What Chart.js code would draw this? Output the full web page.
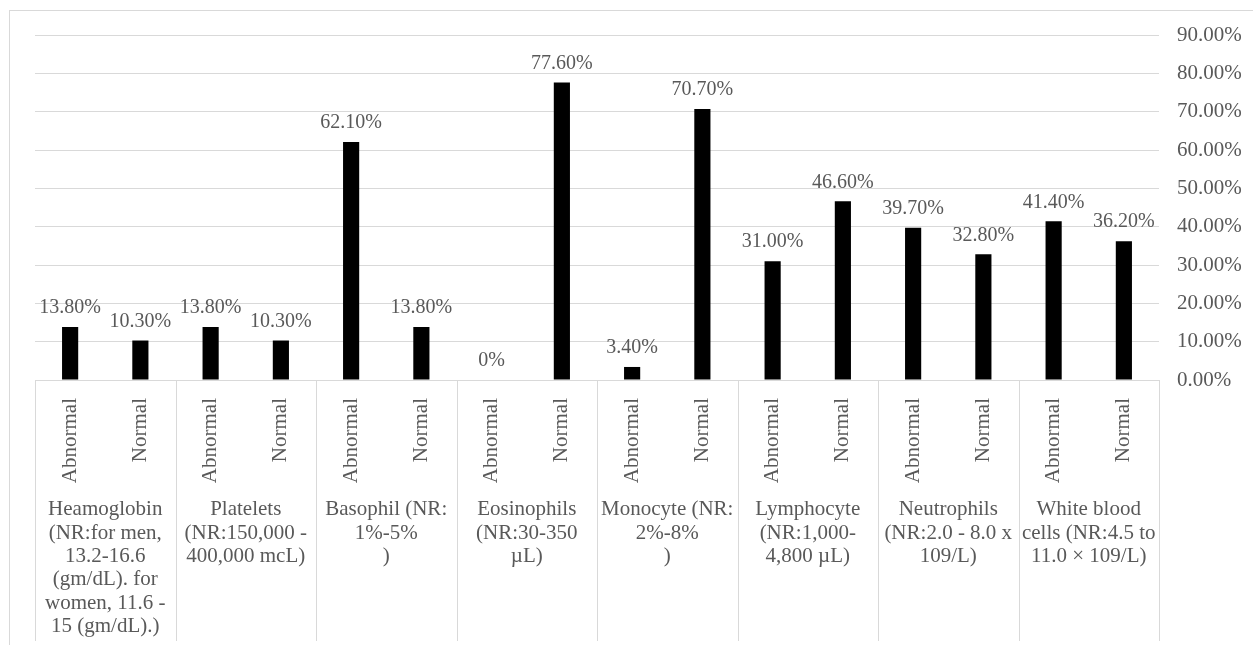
<!DOCTYPE html>
<html>
<head>
<meta charset="utf-8">
<script src="https://cdn.jsdelivr.net/npm/chart.js@4/dist/chart.umd.min.js"></script>
<style>
  html, body { margin: 0; padding: 0; background: #fff; overflow: hidden; }
  #frame {
    position: absolute; left: 9px; top: 10px;
    width: 1244px; height: 635px;
    border-left: 1px solid #d9d9d9; border-top: 1px solid #d9d9d9;
  }
  canvas { display: block; }
</style>
</head>
<body>
<div id="frame"><canvas id="myChart" width="1243" height="634"></canvas></div>
<script>
const groups = [
  ['Heamoglobin', '(NR:for men,', '13.2-16.6', '(gm/dL). for', 'women, 11.6 -', '15 (gm/dL).)'],
  ['Platelets', '(NR:150,000 -', '400,000 mcL)'],
  ['Basophil (NR:', '1%-5%', ')'],
  ['Eosinophils', '(NR:30-350', '\u00b5L)'],
  ['Monocyte (NR:', '2%-8%', ')'],
  ['Lymphocyte', '(NR:1,000-', '4,800 \u00b5L)'],
  ['Neutrophils', '(NR:2.0 - 8.0 x', '109/L)'],
  ['White blood', 'cells (NR:4.5 to', '11.0 \u00d7 109/L)'],
];
const statuses = ['Abnormal', 'Normal'];
const abnormalValues = [13.8, 13.8, 62.1, 0, 3.4, 31.0, 39.7, 41.4];
const normalValues = [10.3, 10.3, 13.8, 77.6, 70.7, 46.6, 32.8, 36.2];
const yTicks = [0, 10, 20, 30, 40, 50, 60, 70, 80, 90];

const labels = [];
const values = [];
groups.forEach((g, i) => {
  labels.push(statuses[0], statuses[1]);
  values.push(abnormalValues[i], normalValues[i]);
});

const textColor = '#595959';
const lineColor = '#d9d9d9';
const serif = "'Liberation Serif', 'Times New Roman', serif";

const fmt = v => (v === 0 ? '0%' : v.toFixed(2) + '%');

// value labels above the bars
const barValues = {
  id: 'barValues',
  afterDatasetsDraw(chart) {
    const ctx = chart.ctx;
    const meta = chart.getDatasetMeta(0);
    ctx.save();
    ctx.font = '20px ' + serif;
    ctx.fillStyle = textColor;
    ctx.textAlign = 'center';
    ctx.textBaseline = 'middle';
    meta.data.forEach((bar, i) => {
      ctx.fillText(fmt(values[i]), bar.x, bar.y - 19);
    });
    ctx.restore();
  },
};

// vertical lines between the groups, below the plot
const groupLines = {
  id: 'groupLines',
  afterDraw(chart) {
    const ctx = chart.ctx;
    const x = chart.scales.x;
    const top = chart.chartArea.bottom;
    ctx.save();
    ctx.strokeStyle = lineColor;
    ctx.lineWidth = 1;
    ctx.beginPath();
    for (let g = 0; g <= groups.length; g++) {
      const px = Math.round(x.getPixelForValue(2 * g - 0.5)) + 0.5;
      ctx.moveTo(px, top);
      ctx.lineTo(px, chart.height - 4);
    }
    ctx.moveTo(x.left, Math.round(top) + 0.5);
    ctx.lineTo(x.right, Math.round(top) + 0.5);
    ctx.stroke();
    ctx.restore();
  },
};

new Chart(document.getElementById('myChart'), {
  type: 'bar',
  data: {
    labels: labels,
    datasets: [{
      data: values,
      backgroundColor: '#000',
      barPercentage: 0.23,
      categoryPercentage: 1,
    }],
  },
  options: {
    responsive: false,
    animation: false,
    layout: { padding: { left: 25, top: 24, right: 11, bottom: 7 } },
    plugins: { legend: { display: false }, tooltip: { enabled: false } },
    scales: {
      x: {
        grid: { display: false, drawTicks: false },
        border: { display: false },
        afterFit: s => { s.height = 103; },
        ticks: {
          autoSkip: false,
          minRotation: 90,
          maxRotation: 90,
          padding: 18,
          color: textColor,
          font: { family: serif, size: 21 },
        },
      },
      xg: {
        type: 'category',
        position: 'bottom',
        labels: groups,
        offset: true,
        grid: { display: false, drawTicks: false },
        border: { display: false },
        afterFit: s => { s.height = 155; },
        ticks: {
          autoSkip: false,
          minRotation: 0,
          maxRotation: 0,
          padding: 15,
          color: textColor,
          font: { family: serif, size: 21, lineHeight: 1.115 },
        },
      },
      y: {
        position: 'right',
        min: 0,
        max: 90,
        afterBuildTicks: scale => {
          scale.ticks = yTicks.map(v => ({ value: v }));
        },
        afterFit: s => {
          s.width = 83;
          s.paddingTop = 0;
          s.paddingBottom = 0;
        },
        grid: { color: lineColor, drawTicks: false },
        border: { display: false },
        ticks: {
          padding: 18,
          color: textColor,
          font: { family: serif, size: 21 },
          callback: v => v.toFixed(2) + '%',
        },
      },
    },
  },
  plugins: [barValues, groupLines],
});
</script>
</body>
</html>
